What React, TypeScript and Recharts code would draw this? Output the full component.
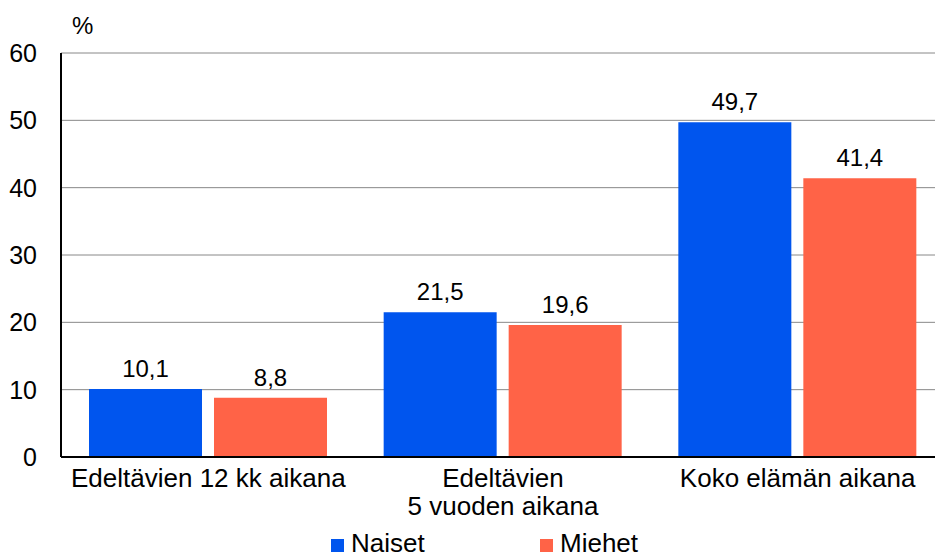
import { BarChart, Bar, XAxis, YAxis, CartesianGrid, Legend, LabelList } from 'recharts';

const categories = ['Edeltävien 12 kk aikana', 'Edeltävien\n5 vuoden aikana', 'Koko elämän aikana'];
const naiset = [10.1, 21.5, 49.7];
const miehet = [8.8, 19.6, 41.4];
const yTicks = [0, 10, 20, 30, 40, 50, 60];

const BLUE = '#0055ee';
const RED = '#ff6347';
const FONT = '"Liberation Sans", Arial, sans-serif';

const data = categories.map((name, i) => ({ name, naiset: naiset[i], miehet: miehet[i] }));

const fmt = (v: number) => v.toFixed(1).replace('.', ',');

function CategoryTick({ x, y, payload }: any) {
  const lines = String(payload.value).split('\n');
  return (
    <text x={x} y={y} textAnchor="middle" fill="#000" fontSize={26} fontFamily={FONT}>
      {lines.map((l, i) => (
        <tspan key={i} x={x} dy={i === 0 ? 22 : 28}>{l}</tspan>
      ))}
    </text>
  );
}

function LegendContent() {
  const items = [
    { label: 'Naiset', color: BLUE },
    { label: 'Miehet', color: RED },
  ];
  return (
    <div style={{ position: 'absolute', left: 0, top: 528, width: 935, height: 30 }}>
      {items.map((it, i) => (
        <div
          key={it.label}
          style={{ position: 'absolute', left: i === 0 ? 331 : 540, top: 0, display: 'flex', alignItems: 'center', fontFamily: FONT, fontSize: 26, lineHeight: '30px', height: 30 }}
        >
          <span style={{ width: 13, height: 13, background: it.color, display: 'inline-block', marginRight: 7, marginTop: 5 }} />
          <span>{it.label}</span>
        </div>
      ))}
    </div>
  );
}

export default function App() {
  return (
    <div style={{ position: 'relative', width: 935, height: 559, background: '#fff', fontFamily: FONT, overflow: 'hidden' }}>
      <style>{'body{margin:0}'}</style>
      <div style={{ position: 'absolute', left: 72, top: 12, fontSize: 24, color: '#000' }}>%</div>
      <BarChart
        width={945}
        height={559}
        data={data}
        margin={{ top: 53, right: 0, left: 0, bottom: 0 }}
        barGap={12}
        barSize={113}
      >
        <CartesianGrid vertical={false} stroke="#888" strokeWidth={1} />
        <XAxis
          dataKey="name"
          axisLine={{ stroke: '#000', strokeWidth: 2 }}
          tickLine={false}
          tick={<CategoryTick />}
          height={102}
          interval={0}
        />
        <YAxis
          domain={[0, 60]}
          ticks={yTicks}
          width={61}
          axisLine={{ stroke: '#000', strokeWidth: 2 }}
          tickLine={false}
          tickSize={0}
          tickMargin={24}
          tick={{ fill: '#000', fontSize: 25, fontFamily: FONT }}
        />
        <Legend verticalAlign="bottom" height={0} content={<LegendContent />} wrapperStyle={{ position: 'absolute', left: 0, top: 0, width: 935 }} />
        <Bar dataKey="naiset" fill={BLUE} isAnimationActive={false}>
          <LabelList dataKey="naiset" position="top" offset={12} formatter={(v: any) => fmt(Number(v))} fill="#000" fontSize={24} fontFamily={FONT} />
        </Bar>
        <Bar dataKey="miehet" fill={RED} isAnimationActive={false}>
          <LabelList dataKey="miehet" position="top" offset={12} formatter={(v: any) => fmt(Number(v))} fill="#000" fontSize={24} fontFamily={FONT} />
        </Bar>
      </BarChart>
    </div>
  );
}
